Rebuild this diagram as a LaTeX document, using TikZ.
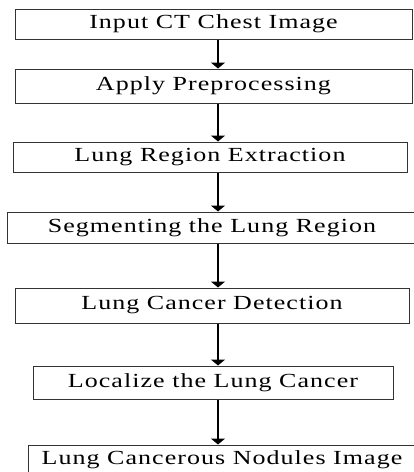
\documentclass[tikz,border=0pt]{standalone}
\usepackage{fontspec}
\usepackage{graphicx}
\setmainfont{Liberation Serif}
\usetikzlibrary{arrows.meta}

% wide, letter-spaced step text
\newcommand{\steptext}[1]{\scalebox{1.3}[1]{\addfontfeature{LetterSpace=4}#1}}

\tikzset{
  stepbox/.style={draw=black!80, line width=1pt, inner sep=0pt,
    font=\fontsize{20}{22}\selectfont},
  flowarrow/.style={line width=2.8pt, -{Triangle[width=14pt,length=6pt]}}
}

\begin{document}
\begin{tikzpicture}[x=1pt, y=-1pt]
    % 画布
    \useasboundingbox (0,0) rectangle (414,472);
    \clip (0,0) rectangle (414,472);

    % 步骤框
    \node[stepbox, minimum width=397pt, minimum height=30pt] (input) at (213.5,24) {\steptext{Input CT Chest Image}};
    \node[stepbox, minimum width=397pt, minimum height=34pt] (prep) at (213.5,86) {\steptext{Apply Preprocessing}};
    \node[stepbox, minimum width=394pt, minimum height=30pt] (extract) at (210,157) {\steptext{Lung Region Extraction}};
    \node[stepbox, minimum width=410pt, minimum height=31pt] (segment) at (212,227.5) {\steptext{Segmenting the Lung Region}};
    \node[stepbox, minimum width=394pt, minimum height=35pt] (detect) at (212,305.5) {\steptext{Lung Cancer Detection}};
    \node[stepbox, minimum width=360pt, minimum height=33pt] (localize) at (213,382.5) {\steptext{Localize the Lung Cancer}};
    \node[stepbox, minimum width=388pt, minimum height=30pt] (nodules) at (222,460) {\steptext{Lung Cancerous Nodules Image}};

    % 箭头所在的竖线
    \coordinate (axis) at (218,0);

    % 箭头
    \foreach \a/\b in {input/prep, prep/extract, extract/segment, segment/detect, detect/localize, localize/nodules}
    {
        \draw[flowarrow] (\a.south -| axis) -- (\b.north -| axis);
    }
\end{tikzpicture}
\end{document}
